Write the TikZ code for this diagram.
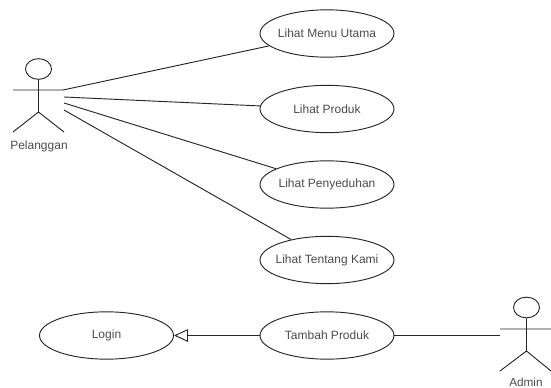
\documentclass[tikz,border=0pt]{standalone}
\usepackage{fontspec}
\setmainfont{Liberation Sans}
\usetikzlibrary{shapes.geometric,arrows.meta}
\newcommand{\uctext}[1]{\makebox[0pt]{#1}}
\tikzset{
  x=0.75pt,y=-0.75pt,
  uc/.style={draw=black!85,ellipse,line width=0.7pt,inner sep=0pt,minimum width=100.5pt,minimum height=35.5pt,font=\fontsize{9pt}{10pt}\selectfont,text=black!70},
  conn/.style={draw=black!85,line width=0.7pt},
  lbl/.style={font=\fontsize{8.8pt}{10pt}\selectfont,text=black!70,inner sep=0pt},
  head/.style={draw=black!85,ellipse,line width=0.7pt,inner sep=0pt,minimum width=19.5pt,minimum height=15.5pt}
}
\begin{document}
\begin{tikzpicture}
\useasboundingbox (0,0) rectangle (551,388);
\node[uc] (menu) at (327,33.5) {\uctext{Lihat Menu Utama}};
\node[uc] (produk) at (327,109) {\uctext{Lihat Produk}};
\node[uc] (seduh) at (327,184.5) {\uctext{Lihat Penyeduhan}};
\node[uc] (kami) at (327,260) {\uctext{Lihat Tentang Kami}};
\node[uc] (tambah) at (327,335.5) {\uctext{Tambah Produk}};
\node[uc] (login) at (106.5,335.5) {\uctext{Login}};
% Pelanggan
\node[head] (phead) at (38.5,69) {};
\coordinate (phip) at (38.5,112);
\coordinate (pl) at (13,90);
\coordinate (pr) at (63,90);
\coordinate (pfl) at (13,132);
\coordinate (pfr) at (64,132);
\coordinate (pa) at (64,97);
\coordinate (pb) at (64,103);
\coordinate (pc) at (64,110);
\draw[conn] (phead.south) -- (phip) (pl) -- (pr) (pfl) -- (phip) -- (pfr);
\node[lbl,font=\fontsize{9pt}{10pt}\selectfont] (plabel) at (39,146) {Pelanggan};
% Admin
\node[head] (ahead) at (526.5,307.5) {};
\coordinate (ahip) at (526.5,351);
\coordinate (al) at (500,329);
\coordinate (ar) at (551,329);
\coordinate (afl) at (500,371);
\coordinate (afr) at (551,371);
\coordinate (aa) at (500,335.5);
\draw[conn] (ahead.south) -- (ahip) (al) -- (ar) (afl) -- (ahip) -- (afr);
\node[lbl] (alabel) at (526,382) {Admin};
% connectors
\draw[conn] (pr) -- (menu);
\draw[conn] (pa) -- (produk);
\draw[conn] (pb) -- (seduh);
\draw[conn] (pc) -- (kami);
\draw[conn] (tambah) -- (aa);
\draw[conn,-{Triangle[open,length=10.5pt,width=9.5pt,fill=white]}] (tambah) -- (login);
\end{tikzpicture}
\end{document}
